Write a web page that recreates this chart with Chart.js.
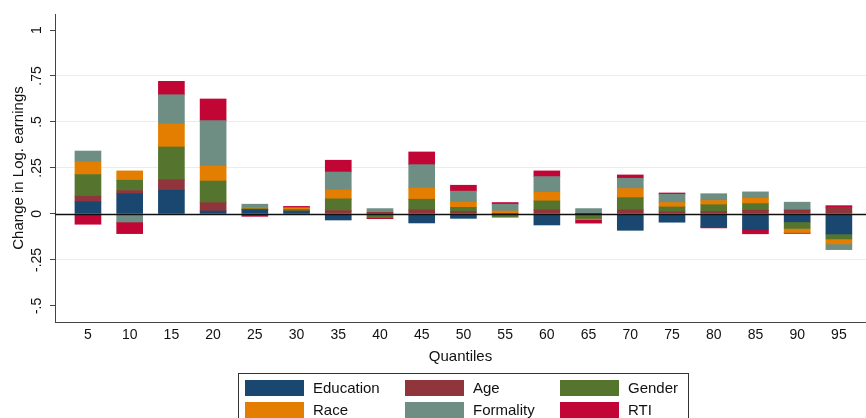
<!DOCTYPE html>
<html>
<head>
<meta charset="utf-8">
<script src="https://cdn.jsdelivr.net/npm/chart.js@4.4.1/dist/chart.umd.min.js"></script>
<style>
  html, body { margin: 0; padding: 0; background: #fff; }
  #wrap { width: 866px; height: 418px; }
</style>
</head>
<body>
<div id="wrap"><canvas id="decompChart" width="866" height="418"></canvas></div>
<script>
const quantiles = [5, 10, 15, 20, 25, 30, 35, 40, 45, 50, 55, 60, 65, 70, 75, 80, 85, 90, 95];
const education = [0.067, 0.110, 0.129, 0.016, 0.022, 0.013, -0.033, -0.001, -0.049, -0.024, -0.002, -0.060, 0.001, -0.089, -0.045, -0.069, -0.086, -0.043, -0.109];
const age = [0.029, 0.017, 0.058, 0.045, 0.003, 0.003, 0.018, 0.009, 0.022, 0.014, 0.002, 0.022, 0.001, 0.022, 0.012, 0.014, 0.020, 0.022, 0.036];
const gender = [0.118, 0.056, 0.177, 0.118, 0.003, 0.008, 0.064, -0.020, 0.058, 0.022, -0.016, 0.049, -0.025, 0.067, 0.026, 0.036, 0.036, -0.036, -0.027];
const race = [0.069, 0.051, 0.125, 0.082, 0.006, 0.008, 0.048, 0.002, 0.061, 0.029, 0.014, 0.047, -0.005, 0.049, 0.024, 0.023, 0.029, -0.022, -0.027];
const formality = [0.059, -0.044, 0.159, 0.246, 0.019, 0.002, 0.098, 0.018, 0.127, 0.059, 0.037, 0.085, 0.027, 0.056, 0.045, 0.037, 0.035, 0.042, -0.031];
const rti = [-0.056, -0.063, 0.073, 0.118, -0.013, 0.007, 0.064, -0.005, 0.069, 0.032, 0.009, 0.031, -0.020, 0.018, 0.007, -0.007, -0.022, -0.005, 0.009];

const yTicks = [1, 0.75, 0.5, 0.25, 0, -0.25, -0.5];
const yTickLabels = ['1', '.75', '.5', '.25', '0', '-.25', '-.5'];

const FONT = "'Liberation Sans', Arial, sans-serif";

const series = [
    { label: 'Education', values: education, color: '#1a476f' },
    { label: 'Age', values: age, color: '#90353b' },
    { label: 'Gender', values: gender, color: '#55752f' },
    { label: 'Race', values: race, color: '#e37e00' },
    { label: 'Formality', values: formality, color: '#6e8e84' },
    { label: 'RTI', values: rti, color: '#c10534' },
];

// y labels are rotated like Stata, zero line on top, and a boxed 3-column legend
const stataExtras = {
    id: 'stataExtras',
    afterDatasetsDraw(chart) {
        const { ctx, scales: { x, y } } = chart;
        ctx.save();
        ctx.strokeStyle = '#111';
        ctx.lineWidth = 1.5;
        const y0 = Math.round(y.getPixelForValue(0)) + 0.5;
        ctx.beginPath();
        ctx.moveTo(x.left, y0);
        ctx.lineTo(x.right, y0);
        ctx.stroke();
        ctx.restore();
    },
    afterDraw(chart) {
        const { ctx, scales: { y } } = chart;
        ctx.save();
        ctx.fillStyle = '#111';
        ctx.font = '14px ' + FONT;
        ctx.textAlign = 'center';
        ctx.textBaseline = 'middle';
        yTicks.forEach((v, i) => {
            ctx.save();
            ctx.translate(37, y.getPixelForValue(v));
            ctx.rotate(-Math.PI / 2);
            ctx.fillText(yTickLabels[i], 0, 0);
            ctx.restore();
        });

        // legend
        ctx.strokeStyle = '#333';
        ctx.lineWidth = 1;
        ctx.strokeRect(238.5, 373.5, 450, 60);
        const cols = [245, 405, 560];
        const rows = [380, 402];
        ctx.font = '15px ' + FONT;
        ctx.textAlign = 'left';
        chart.data.datasets.forEach((ds, i) => {
            const cx = cols[i % 3];
            const cy = rows[Math.floor(i / 3)];
            ctx.fillStyle = ds.backgroundColor;
            ctx.fillRect(cx, cy, 59, 16);
            ctx.fillStyle = '#111';
            ctx.fillText(ds.label, cx + 68, cy + 8.5);
        });
        ctx.restore();
    }
};

const ctx = document.getElementById('decompChart').getContext('2d');
new Chart(ctx, {
    type: 'bar',
    data: {
        datasets: series.map(s => ({
            label: s.label,
            data: quantiles.map((q, i) => ({ x: q, y: s.values[i] })),
            backgroundColor: s.color,
            borderWidth: 0,
            barThickness: 26,
        })),
    },
    options: {
        responsive: false,
        animation: false,
        layout: { padding: { top: 14, right: 0, bottom: 52, left: 0 } },
        plugins: {
            legend: { display: false },
            tooltip: { enabled: false },
        },
        scales: {
            x: {
                type: 'linear',
                stacked: true,
                offset: false,
                min: 1.05,
                max: 98.25,
                afterBuildTicks: (scale) => { scale.ticks = quantiles.map(q => ({ value: q })); },
                grid: { display: false, drawTicks: false },
                border: { color: '#444', width: 1 },
                ticks: {
                    color: '#111',
                    font: { family: FONT, size: 14, lineHeight: 1 },
                    padding: 6,
                    maxRotation: 0,
                    autoSkip: false,
                    callback: (v) => String(v),
                },
                title: {
                    display: true,
                    text: 'Quantiles',
                    color: '#111',
                    font: { family: FONT, size: 15 },
                    padding: { top: 0, bottom: 0 },
                },
            },
            y: {
                stacked: true,
                min: -0.5875,
                max: 1.087,
                afterBuildTicks: (scale) => { scale.ticks = yTicks.map(v => ({ value: v })); },
                afterFit: (scale) => { scale.width = 55; },
                grid: {
                    color: (c) => (c.tick && (c.tick.value === 1 || c.tick.value === -0.5 || c.tick.value === 0)) ? 'rgba(0,0,0,0)' : '#e6eef0',
                    tickColor: '#444',
                    tickLength: 5,
                    drawTicks: true,
                },
                border: { color: '#444', width: 1 },
                ticks: { display: false },
                title: {
                    display: true,
                    text: 'Change in Log. earnings',
                    color: '#111',
                    font: { family: FONT, size: 15 },
                    padding: { top: 10, bottom: 0 },
                },
            },
        },
    },
    plugins: [stataExtras],
});
</script>
</body>
</html>
